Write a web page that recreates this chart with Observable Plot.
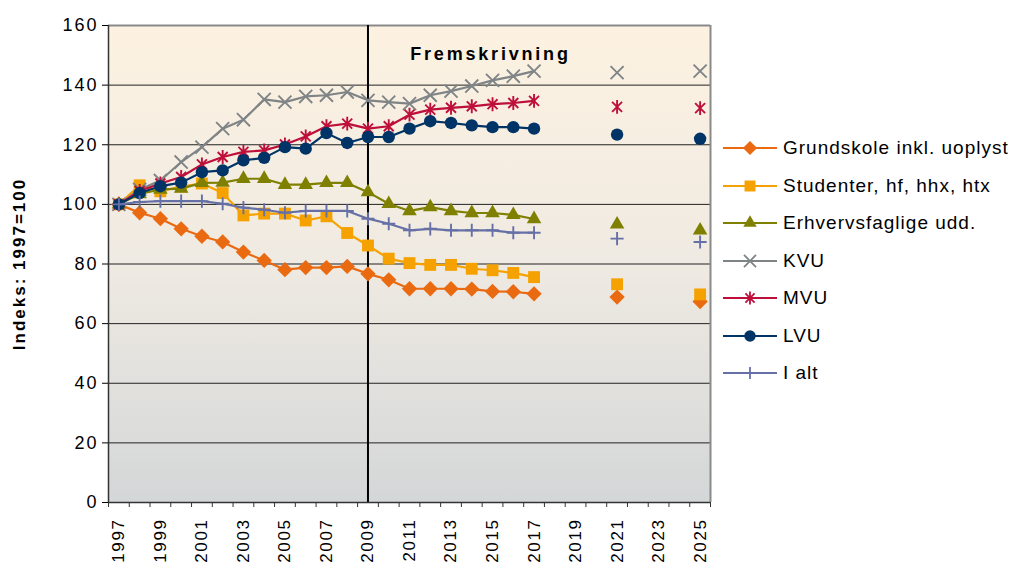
<!DOCTYPE html>
<html><head><meta charset="utf-8">
<script src="https://cdn.jsdelivr.net/npm/d3@7"></script>
<script src="https://cdn.jsdelivr.net/npm/@observablehq/plot@0.6"></script>
<style>
html,body{margin:0;padding:0;background:#fff;}
#wrap{position:relative;width:1012px;height:563px;overflow:hidden;font-family:"Liberation Sans",Arial,sans-serif;}
#wrap svg{font-family:"Liberation Sans",Arial,sans-serif;}
#legend{position:absolute;left:723px;top:0;width:289px;height:563px;}
.lg{position:absolute;left:0;height:20px;display:flex;align-items:center;white-space:nowrap;font-size:19px;letter-spacing:1px;color:#000;}
.lg svg{display:block;margin-right:6px;}
g[aria-label="y-axis tick label"] text{letter-spacing:2px;}
g[aria-label="x-axis tick label"] text{letter-spacing:1.6px;}
</style></head>
<body><div id="wrap"><div id="chart"></div><div id="legend"></div></div>
<script>
// ---- data ----
const years = [1997,1998,1999,2000,2001,2002,2003,2004,2005,2006,2007,2008,2009,2010,2011,2012,2013,2014,2015,2016,2017,2021,2025];
const seriesNames = ["Grundskole inkl. uoplyst","Studenter, hf, hhx, htx","Erhvervsfaglige udd.","KVU","MVU","LVU","I alt"];
const grundskole = [100,97.2,95.2,91.8,89.3,87.4,84.0,81.2,78.1,78.8,78.8,79.2,76.7,74.7,71.7,71.7,71.7,71.6,70.8,70.7,70.0,68.9,67.4];
const studenter  = [100,106.4,104.4,106.0,107.0,103.8,96.3,96.9,96.9,94.6,96.0,90.4,86.2,81.8,80.3,79.7,79.7,78.4,77.9,77.0,75.6,73.2,69.8];
const erhverv    = [100,103.5,105.0,105.3,107.2,107.3,108.6,108.6,106.6,106.6,107.2,107.2,104.1,100.2,97.8,99.1,97.8,97.1,97.1,96.5,95.1,93.3,91.3];
const kvu        = [100,105.0,108.0,114.2,119.2,125.4,128.4,135.2,134.3,136.2,136.6,137.7,134.9,134.3,133.8,136.6,138.0,139.7,141.6,143.0,144.7,144.2,144.7];
const mvu        = [100,104.5,107.0,109.2,113.4,115.9,117.6,118.1,120.1,122.8,126.2,127.1,125.4,126.2,130.1,131.8,132.4,132.9,133.6,134.0,134.7,132.7,132.3];
const lvu        = [100,103.8,106.1,107.3,110.8,111.4,114.8,115.6,119.2,118.7,123.9,120.6,122.6,122.6,125.4,127.9,127.3,126.5,125.9,125.9,125.4,123.4,122.0];
const ialt       = [100,100.8,101.1,101.1,101.1,100.2,98.9,98.2,97.2,97.8,97.8,97.8,95.2,93.5,91.3,91.8,91.3,91.3,91.3,90.5,90.5,88.5,87.4];
const seriesValues = [grundskole,studenter,erhverv,kvu,mvu,lvu,ialt];
const lastConnectedYear = 2017;
const yTicks = [0,20,40,60,80,100,120,140,160];
const xLabelYears = [1997,1999,2001,2003,2005,2007,2009,2011,2013,2015,2017,2019,2021,2023,2025];
const projectionStart = 2009;
const annotationText = "Fremskrivning";
const yTitle = "Indeks: 1997=100";

// ---- styles ----
const colors = ["#EA6A12","#F5A200","#808000","#7F8486","#BE0F3A","#003366","#6670A6"];
const asteriskSym = {draw(ctx, size){const r=Math.sqrt(size/Math.PI)*1.05;const a=r*0.72;ctx.moveTo(0,-r);ctx.lineTo(0,r);ctx.moveTo(-a,-a);ctx.lineTo(a,a);ctx.moveTo(a,-a);ctx.lineTo(-a,a);}};
const symbols = [d3.symbolDiamond2, d3.symbolSquare, d3.symbolTriangle, d3.symbolTimes, asteriskSym, d3.symbolCircle, d3.symbolPlus];
const radii = [6.9, 6.7, 5.4, 6.0, 6.6, 6.2, 4.3];
const filled = [true,true,true,false,false,true,false];

const rows = seriesNames.map((name,si) => years.map((y,i) => ({serie:name, year:y, value:seriesValues[si][i]})));

const bgMark = (index, scales, values, dims) => {
  const ns = "http://www.w3.org/2000/svg";
  const g = document.createElementNS(ns,"g");
  const defs = document.createElementNS(ns,"defs");
  defs.innerHTML = `<linearGradient id="bgGrad" x1="0" y1="0" x2="0" y2="1"><stop offset="0" stop-color="#FDF2E1"/><stop offset="0.5" stop-color="#EFEAE2"/><stop offset="1" stop-color="#D4D7D8"/></linearGradient>`;
  g.appendChild(defs);
  const r = document.createElementNS(ns,"rect");
  r.setAttribute("x", dims.marginLeft); r.setAttribute("y", dims.marginTop);
  r.setAttribute("width", dims.width - dims.marginLeft - dims.marginRight);
  r.setAttribute("height", dims.height - dims.marginTop - dims.marginBottom);
  r.setAttribute("fill","url(#bgGrad)");
  g.appendChild(r);
  return g;
};

const boundaries = d3.range(1996.5, 2026, 1);
const seriesMarks = [];
rows.forEach((data, si) => {
  seriesMarks.push(Plot.line(data.filter(d => d.year <= lastConnectedYear), {x:"year", y:"value", stroke: colors[si], strokeWidth: 2.2}));
  seriesMarks.push(Plot.dot(data, {x:"year", y:"value", symbol: symbols[si], r: radii[si],
    fill: filled[si] ? colors[si] : "none", stroke: filled[si] ? "none" : colors[si], strokeWidth: filled[si] ? 0 : 1.9}));
});

const chart = Plot.plot({
  width: 1012, height: 563,
  marginTop: 25, marginBottom: 61, marginLeft: 108, marginRight: 302,
  x: {type: "linear", domain: [1996.5, 2025.5]},
  y: {domain: [0, 160]},
  style: {background: "transparent", color: "#000"},
  marks: [
    bgMark,
    Plot.ruleY(yTicks.filter(t => t > 0 && t < 160), {stroke: "#222", strokeWidth: 1}),
    Plot.ruleY([160], {stroke: "#8a8a8a", strokeWidth: 2}),
    Plot.ruleX([2025.5], {stroke: "#8a8a8a", strokeWidth: 2}),
    Plot.ruleX([projectionStart], {stroke: "#000", strokeWidth: 2}),
    Plot.text([annotationText], {x: 2014.9, y: 150.5, text: d => d, fontSize: 18, fontWeight: "bold", fill: "#000"}),
    ...seriesMarks,
    Plot.ruleX([1996.5], {stroke: "#333", strokeWidth: 1.5}),
    Plot.ruleY([0], {stroke: "#333", strokeWidth: 1.5}),
    Plot.axisY({ticks: yTicks, tickSize: 6, tickPadding: 4, fontSize: 18, label: null, color: "#000"}),
    Plot.axisX({ticks: boundaries, tickSize: 5, tickFormat: () => "", label: null, color: "#333"}),
    Plot.axisX({ticks: xLabelYears, tickSize: 0, tickPadding: 16, tickRotate: -90, fontSize: 17, label: null, tickFormat: d => String(d), color: "#000"}),
    Plot.text([yTitle], {frameAnchor: "left", rotate: -90, dx: -89, text: d => d, textAnchor: "middle", fontSize: 17, fontWeight: "bold", fill: "#000"})
  ]
});
d3.select(chart).selectAll("text").each(function(){
  const t = this.textContent;
  if (t === annotationText) this.style.letterSpacing = "2.8px";
  if (t === yTitle) this.style.letterSpacing = "2px";
});
document.getElementById("chart").appendChild(chart);

// ---- legend ----
const legend = d3.select("#legend");
seriesNames.forEach((name, si) => {
  const row = legend.append("div").attr("class","lg").style("top", (148.3 + si*37.5 - 10) + "px");
  const s = row.append("svg").attr("width",54).attr("height",20);
  s.append("line").attr("x1",0).attr("x2",54).attr("y1",10).attr("y2",10).attr("stroke",colors[si]).attr("stroke-width",2);
  s.append("path").attr("transform","translate(27,10)")
    .attr("d", d3.symbol(symbols[si], Math.PI*radii[si]*radii[si]*0.85)())
    .attr("fill", filled[si] ? colors[si] : "none")
    .attr("stroke", filled[si] ? "none" : colors[si]).attr("stroke-width", 1.8);
  row.append("span").text(name);
});
</script></body></html>
